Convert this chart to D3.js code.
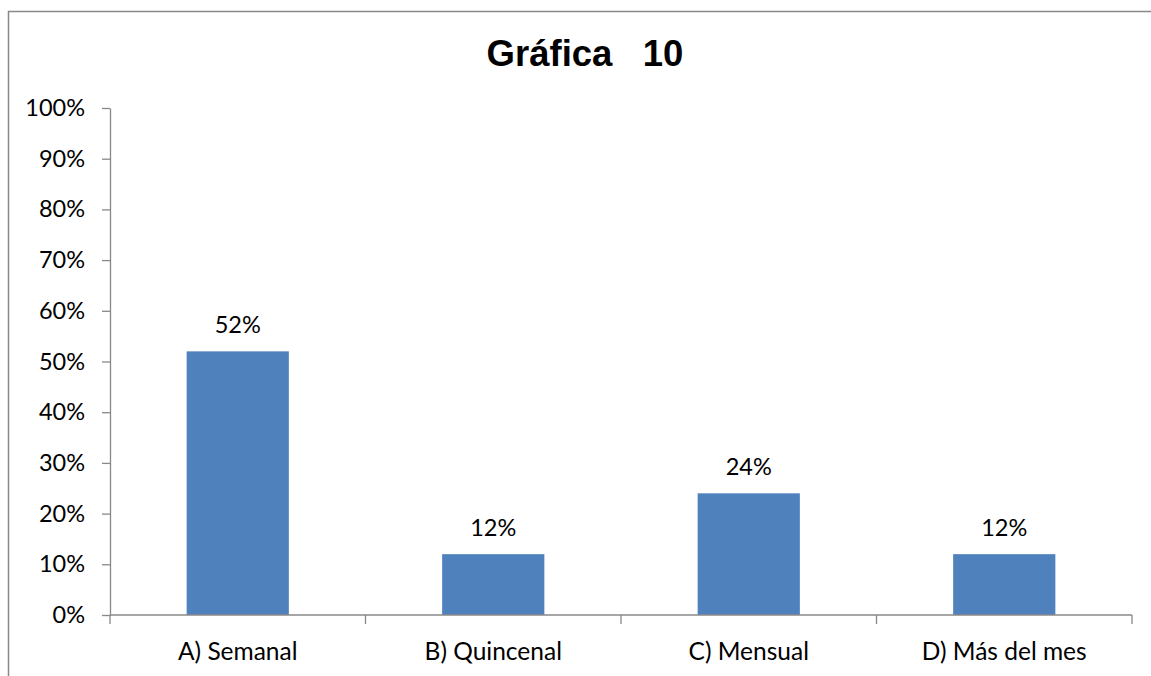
<!DOCTYPE html>
<html><head><meta charset="utf-8">
<script src="https://cdn.jsdelivr.net/npm/d3@7"></script>
<style>body{margin:0;background:#fff}svg{display:block}</style>
</head><body>
<svg id="c" width="1151" height="676"></svg>
<script>
const categories = ["A) Semanal", "B) Quincenal", "C) Mensual", "D) Más del mes"];
const values = [0.52, 0.12, 0.24, 0.12];
const valueLabels = ["52%", "12%", "24%", "12%"];
const yTicks = [0,0.1,0.2,0.3,0.4,0.5,0.6,0.7,0.8,0.9,1.0];
const title = "Gráfica\u00a0\u00a0\u00a010";

const svg = d3.select("#c");
const font = "Lato, 'Open Sans', sans-serif";
// border
svg.append("path").attr("d","M8.5,676 L8.5,11.5 L1151,11.5").attr("fill","none").attr("stroke","#888").attr("stroke-width",1.5);

const m = {left:110, right:1132, top:108, bottom:615};
const x = d3.scaleBand().domain(categories).range([m.left, m.right]).paddingInner(0.6).paddingOuter(0.3);
const xb = d3.scaleBand().domain(categories).range([m.left, m.right]);
const y = d3.scaleLinear().domain([0,1]).range([m.bottom, m.top]);

svg.append("text").attr("x",585).attr("y",66).attr("text-anchor","middle")
  .attr("font-family","Arial, 'Liberation Sans', sans-serif").attr("font-weight","bold").attr("font-size",36.5).text(title);

// y axis
const ya = svg.append("g").attr("transform",`translate(${m.left},0)`)
  .call(d3.axisLeft(y).tickValues(yTicks).tickFormat(d3.format(".0%")).tickSize(8).tickSizeOuter(0));
ya.select(".domain").attr("stroke","#888").attr("stroke-width",1.3);
ya.selectAll(".tick line").attr("stroke","#888").attr("stroke-width",1.3);
ya.selectAll(".tick text").attr("font-family",font).attr("font-size",23.5).attr("fill","#000").attr("x",-25);

// bars
svg.selectAll("rect.bar").data(values).join("rect").attr("class","bar")
  .attr("x",(d,i)=>x(categories[i])).attr("width",x.bandwidth())
  .attr("y",d=>y(d)).attr("height",d=>y(0)-y(d)).attr("fill","#4F81BD");

// x axis
const xa = svg.append("g").attr("transform",`translate(0,${m.bottom})`);
xa.append("line").attr("x1",m.left).attr("x2",m.right).attr("y1",0).attr("y2",0).attr("stroke","#888").attr("stroke-width",1.3);
const bounds = categories.map(c=>xb(c)).concat([m.right]);
xa.selectAll("line.t").data(bounds).join("line").attr("class","t")
  .attr("x1",d=>d).attr("x2",d=>d).attr("y1",0).attr("y2",9).attr("stroke","#888").attr("stroke-width",1.3);
xa.selectAll("text").data(categories).join("text")
  .attr("x",d=>xb(d)+xb.bandwidth()/2).attr("y",45).attr("text-anchor","middle")
  .attr("font-family",font).attr("font-size",24.5).attr("fill","#000").text(d=>d);

// value labels
svg.selectAll("text.vl").data(values).join("text").attr("class","vl")
  .attr("x",(d,i)=>x(categories[i])+x.bandwidth()/2).attr("y",d=>y(d)-18)
  .attr("text-anchor","middle").attr("font-family",font).attr("font-size",23.5).attr("fill","#000")
  .text((d,i)=>valueLabels[i]);
</script>
</body></html>
